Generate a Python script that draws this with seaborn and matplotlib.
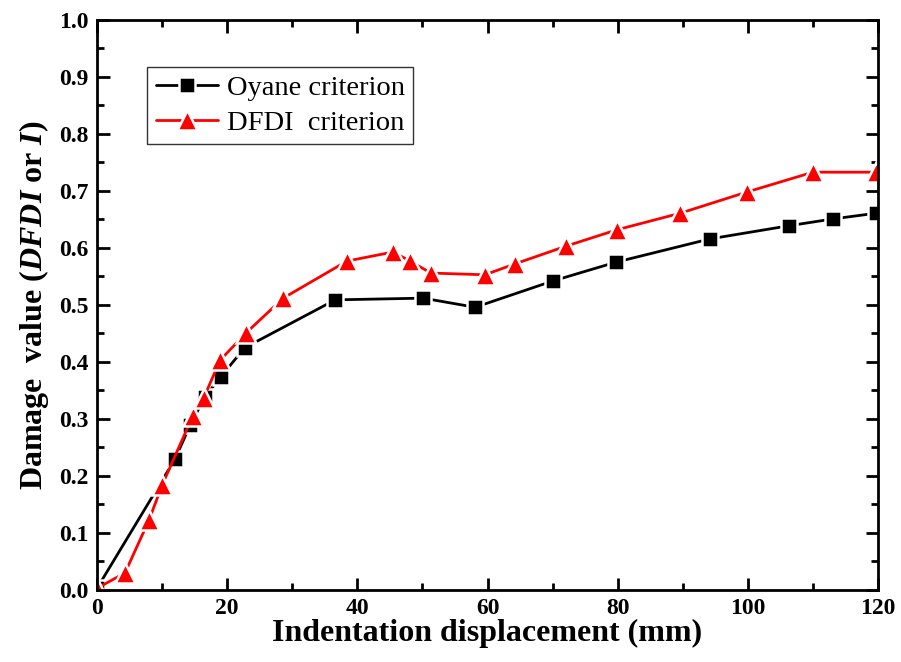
import matplotlib
matplotlib.use("Agg")
import matplotlib.pyplot as plt
import seaborn as sns
import pandas as pd
from matplotlib.ticker import MultipleLocator

oyane_x = [0, 12.0, 14.3, 16.6, 19.0, 22.7, 36.6, 50.1, 58.1, 70.0, 79.7, 94.2, 106.3, 113.1, 119.7]
oyane_y = [0.003, 0.230, 0.289, 0.339, 0.374, 0.425, 0.509, 0.512, 0.496, 0.542, 0.575, 0.616, 0.639, 0.651, 0.661]

dfdi_x = [0, 4.3, 8.0, 10.0, 14.7, 16.4, 18.9, 22.9, 28.6, 38.4, 45.5, 48.1, 51.3, 59.6, 64.2, 72.0, 79.9, 89.6, 99.8, 110.0, 119.7]
dfdi_y = [0.003, 0.030, 0.123, 0.184, 0.305, 0.337, 0.403, 0.451, 0.512, 0.577, 0.593, 0.577, 0.556, 0.553, 0.572, 0.603, 0.632, 0.661, 0.698, 0.733, 0.733]

sns.set_style("ticks")
plt.rcParams['font.family'] = ['Liberation Serif', 'DejaVu Serif']
plt.rcParams['mathtext.fontset'] = 'custom'
plt.rcParams['mathtext.it'] = 'Liberation Serif:italic:bold'
plt.rcParams['mathtext.rm'] = 'Liberation Serif:bold'
for k in ['text.color', 'axes.labelcolor', 'xtick.color', 'ytick.color', 'axes.edgecolor']:
    plt.rcParams[k] = 'black'

fig = plt.figure(figsize=(9.01, 6.62), dpi=100)
ax = fig.add_axes([0.1077, 0.1088, 0.8668, 0.861])

df1 = pd.DataFrame({"x": oyane_x, "y": oyane_y})
df2 = pd.DataFrame({"x": dfdi_x, "y": dfdi_y})

sns.lineplot(data=df1, x="x", y="y", ax=ax, color="black", marker="s", markersize=11,
             markeredgecolor="white", markeredgewidth=1.8, markerfacecolor="black",
             linewidth=2, label="Oyane criterion", sort=False)
sns.lineplot(data=df2, x="x", y="y", ax=ax, color="red", marker="^", markersize=15,
             markeredgecolor="white", markeredgewidth=1.8, markerfacecolor="red",
             linewidth=2, label="DFDI  criterion", sort=False)

ax.set_xlim(0, 120)
ax.set_ylim(0, 1.0)
ax.xaxis.set_major_locator(MultipleLocator(20))
ax.xaxis.set_minor_locator(MultipleLocator(10))
ax.yaxis.set_major_locator(MultipleLocator(0.1))
ax.yaxis.set_minor_locator(MultipleLocator(0.05))
ax.yaxis.set_major_formatter(matplotlib.ticker.FormatStrFormatter('%.1f'))

ax.tick_params(which='both', direction='in', top=True, right=True, width=2, colors='black')
ax.tick_params(which='major', length=9, labelsize=17, pad=6)
ax.tick_params(which='minor', length=5)
for lab in ax.get_xticklabels() + ax.get_yticklabels():
    lab.set_fontweight('bold')
for sp in ax.spines.values():
    sp.set_linewidth(2)
    sp.set_color('black')
    sp.set_visible(True)

ax.set_xlabel("Indentation displacement (mm)", fontsize=23, fontweight='bold', labelpad=0)
ax.set_ylabel(r"Damage  value ($\mathit{DFDI}$ or $\mathit{I}$)", fontsize=23, fontweight='bold', labelpad=6)

leg = ax.legend(loc='upper left', bbox_to_anchor=(0.064, 0.918), fontsize=20.5, frameon=True,
                fancybox=False, edgecolor='black', borderpad=0.3, handlelength=2.2,
                handletextpad=0.3, labelspacing=0.3, borderaxespad=0)
leg.get_frame().set_linewidth(1)

fig.savefig("out.png", dpi=100)
